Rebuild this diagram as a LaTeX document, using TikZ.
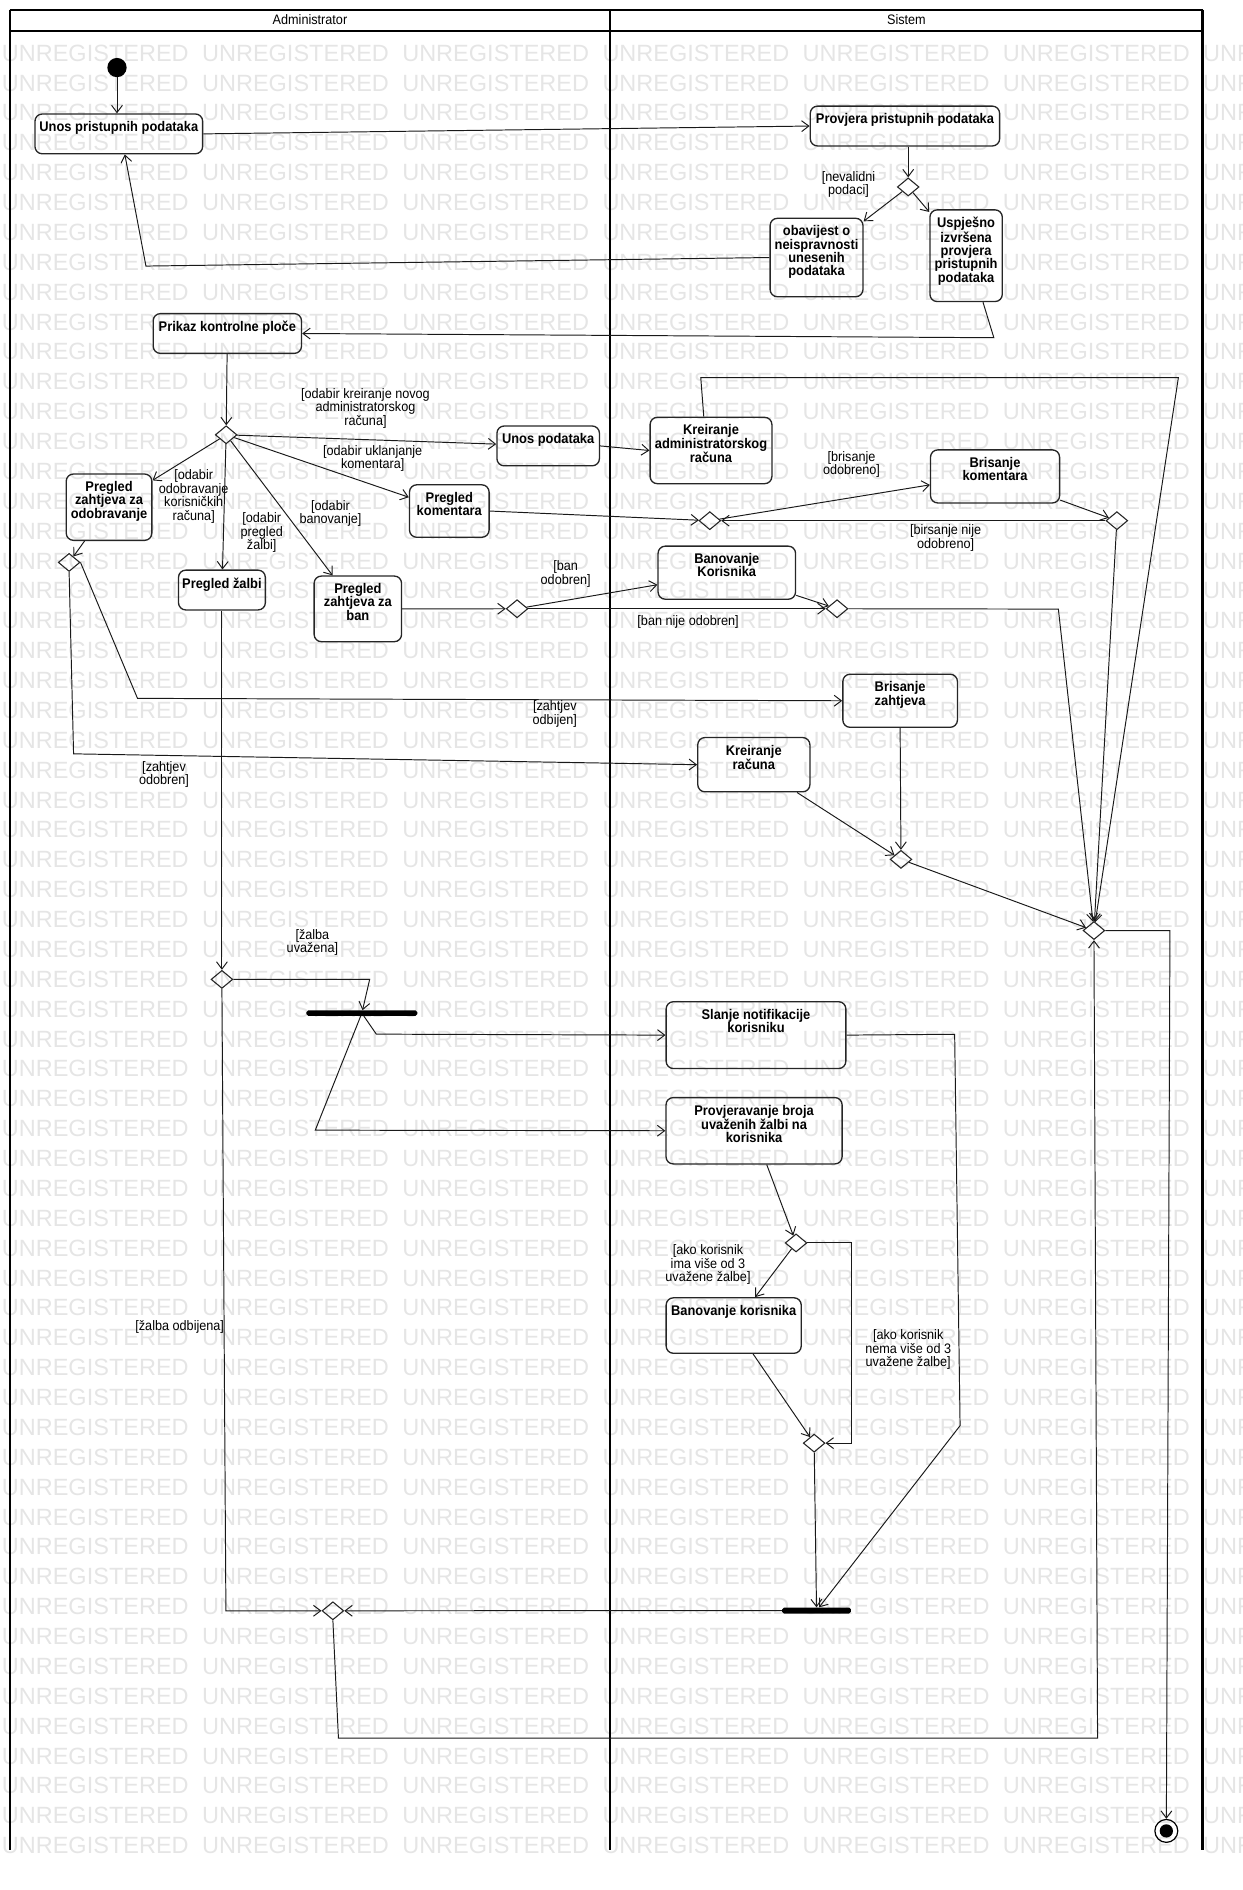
\documentclass[tikz,border=0pt]{standalone}
\usepackage{fontspec}
\setmainfont{Liberation Sans}
\newfontfamily\uifont{Liberation Sans}[FakeStretch=0.92]
\usetikzlibrary{shapes.geometric,arrows.meta}

\newcommand\actfont{\uifont\bfseries\fontsize{11.6}{11}\selectfont}
\newcommand\grdfont{\uifont\fontsize{11.4}{11.3}\selectfont}
\newcommand\lanefont{\uifont\fontsize{11.4}{12}\selectfont}
\newcommand\wmfont{\fontsize{19.5}{20}\selectfont}

\tikzset{
    lane/.style={line width=1.8pt},
    act/.style={draw=black!85, line width=1.1pt, rounded corners=6pt, inner sep=0pt},
    acttxt/.style={anchor=north, inner sep=4pt, yshift=-2.5pt, align=center, font=\actfont},
    dec/.style={diamond, draw=black!85, line width=0.9pt, inner sep=0pt, minimum width=18pt, minimum height=15pt},
    bar/.style={fill=black, rounded corners=1.5pt, inner sep=0pt},
    grd/.style={align=center, inner sep=0pt, font=\grdfont},
    arr/.style={draw=black!90, line width=0.8pt, -{Straight Barb[length=6pt,width=9pt]}},
    wm/.style={text=black!10, font=\wmfont, inner sep=0pt},
}

\begin{document}
\begin{tikzpicture}[x=1pt, y=-1pt]
            \useasboundingbox (0,0) rectangle (1030,1567);
            \clip (0,0) rectangle (1030,1567);

            % Watermark rows
            \foreach \r in {0,...,60}{
                \foreach \c in {0,...,6}{
                    \node[wm] (wm\r-\c) at ({79+166*\c},{44+24.77*\r}) {UNREGISTERED};
                }
            }

            % Swimlanes
            \draw[lane] (8,8) -- (997,8);
            \draw[lane] (8,25.5) -- (997,25.5);
            \draw[lane] (8,8) -- (8,1534);
            \draw[lane] (506,8) -- (506,1534);
            \draw[lane] (997,8) -- (997,1534);
            \node[font=\lanefont] (admin) at (257,16.5) {Administrator};
            \node[font=\lanefont] (sistem) at (751.5,16.5) {Sistem};

            % Start and end
            \node[circle, fill=black, minimum size=16pt, inner sep=0pt] (start) at (97,56) {};
            \node[circle, draw=black, line width=1pt, minimum size=19pt, inner sep=0pt] (final) at (967,1518) {};
            \node[circle, fill=black, minimum size=11pt, inner sep=0pt] (finaldot) at (final) {};

            % Activities
            \node[act, minimum width=139pt, minimum height=33pt, label={[acttxt]north:Unos pristupnih podataka}] (unospr) at (98.5,111) {};
            \node[act, minimum width=157pt, minimum height=33pt, label={[acttxt]north:Provjera pristupnih podataka}] (provjera) at (750.3,104.5) {};
            \node[act, minimum width=77pt, minimum height=65pt, label={[acttxt]north:{obavijest o\\neispravnosti\\unesenih\\podataka}}] (obavijest) at (677,213.5) {};
            \node[act, minimum width=60pt, minimum height=76pt, label={[acttxt]north:{Uspješno\\izvršena\\provjera\\pristupnih\\podataka}}] (uspjesno) at (801,212) {};
            \node[act, minimum width=123pt, minimum height=33pt, label={[acttxt]north:Prikaz kontrolne ploče}] (prikaz) at (188.5,276.5) {};
            \node[act, minimum width=85pt, minimum height=33pt, label={[acttxt]north:Unos podataka}] (unospod) at (454.5,369.7) {};
            \node[act, minimum width=101pt, minimum height=55pt, label={[acttxt]north:{Kreiranje\\administratorskog\\računa}}] (kradmin) at (589.5,373.5) {};
            \node[act, minimum width=71pt, minimum height=55pt, label={[acttxt]north:{Pregled\\zahtjeva za\\odobravanje}}] (pregodo) at (90.4,420.5) {};
            \node[act, minimum width=66pt, minimum height=43.5pt, label={[acttxt]north:{Pregled\\komentara}}] (pregkom) at (372.5,423.7) {};
            \node[act, minimum width=72pt, minimum height=33pt, label={[acttxt]north:Pregled žalbi}] (pregzal) at (184,489.2) {};
            \node[act, minimum width=72.5pt, minimum height=54.4pt, label={[acttxt]north:{Pregled\\zahtjeva za\\ban}}] (pregban) at (296.7,504.8) {};
            \node[act, minimum width=107pt, minimum height=44pt, label={[acttxt]north:{Brisanje\\komentara}}] (brkom) at (825,395) {};
            \node[act, minimum width=114pt, minimum height=44pt, label={[acttxt]north:{Banovanje\\Korisnika}}] (ban1) at (602.6,474.8) {};
            \node[act, minimum width=95pt, minimum height=44pt, label={[acttxt]north:{Brisanje\\zahtjeva}}] (brzaht) at (746.3,581) {};
            \node[act, minimum width=93pt, minimum height=45pt, label={[acttxt]north:{Kreiranje\\računa}}] (kracun) at (625,634) {};
            \node[act, minimum width=149pt, minimum height=55.4pt, label={[acttxt]north:{Slanje notifikacije\\korisniku}}] (slanje) at (626.8,858.2) {};
            \node[act, minimum width=146pt, minimum height=55pt, label={[acttxt]north:{Provjeravanje broja\\uvaženih žalbi na\\korisnika}}] (provj) at (625.2,937.5) {};
            \node[act, minimum width=112pt, minimum height=46pt, label={[acttxt]north:Banovanje korisnika}] (ban2) at (608.3,1099) {};

            % Decisions and merges
            \node[dec] (d1) at (753,155) {};
            \node[dec] (d2) at (187.5,360.5) {};
            \node[dec] (d3) at (57.3,466.3) {};
            \node[dec] (dkom) at (588.5,431.7) {};
            \node[dec] (dkom2) at (926,431.7) {};
            \node[dec] (dban) at (428.7,504.7) {};
            \node[dec] (dban2) at (694,504.7) {};
            \node[dec] (dsmall) at (747,712.5) {};
            \node[dec] (dbig) at (907,771.5) {};
            \node[dec] (dzalba) at (184,812) {};
            \node[dec] (dkor) at (660,1030.5) {};
            \node[dec] (dkor2) at (675,1196.5) {};
            \node[dec] (dlow) at (276,1335.5) {};

            % Fork and join
            \node[bar, minimum width=92pt, minimum height=4.5pt] (fork) at (300,840) {};
            \node[bar, minimum width=57pt, minimum height=5pt] (join) at (677,1335.3) {};

            % Guards
            \node[grd] (g1) at (703.5,153) {[nevalidni\\podaci]};
            \node[grd] (g2) at (303,338.6) {[odabir kreiranje novog\\administratorskog\\računa]};
            \node[grd] (g3) at (309,380) {[odabir uklanjanje\\komentara]};
            \node[grd] (g4) at (274,425.7) {[odabir\\banovanje]};
            \node[grd] (g5) at (217,441.5) {[odabir\\pregled\\žalbi]};
            \node[grd] (g6) at (160.6,411.5) {[odabir\\odobravanje\\korisničkih\\računa]};
            \node[grd] (g7) at (706,385) {[brisanje\\odobreno]};
            \node[grd] (g8) at (784,446) {[birsanje nije\\odobreno]};
            \node[grd] (g9) at (469,476) {[ban\\odobren]};
            \node[grd] (g10) at (570.5,515.5) {[ban nije odobren]};
            \node[grd] (g11) at (460,592) {[zahtjev\\odbijen]};
            \node[grd] (g12) at (136,642) {[zahtjev\\odobren]};
            \node[grd] (g13) at (259,781.5) {[žalba\\uvažena]};
            \node[grd] (g14) at (149,1100) {[žalba odbijena]};
            \node[grd] (g15) at (587,1048.5) {[ako korisnik\\ima više od 3\\uvažene žalbe]};
            \node[grd] (g16) at (753,1119) {[ako korisnik\\nema više od 3\\uvažene žalbe]};

            % Login
            \draw[arr] (start) -- (start |- unospr.north);
            \draw[arr] (unospr.east) -- (provjera.west);
            \draw[arr] (d1 |- provjera.south) -- (d1);
            \draw[arr] (d1) -- (obavijest);
            \draw[arr] (d1) -- (uspjesno);
            \draw[arr] (obavijest.west) -- (121,220.6) -- ([xshift=5pt]unospr.south);
            \draw[arr] ([xshift=14pt]uspjesno.south) -- (824,280) -- (prikaz.east);

            % Dashboard choices
            \draw[arr] (prikaz) -- (d2);
            \draw[arr] (d2) -- (unospod);
            \draw[arr] (d2) -- (pregkom);
            \draw[arr] (d2) -- (pregban);
            \draw[arr] (d2) -- (pregzal);
            \draw[arr] (d2) -- (pregodo);
            \draw[arr] (unospod.east) -- (kradmin.west);
            \draw[arr] ([xshift=-6pt]kradmin.north) -- (581,313) -- (977,313) -- (dbig);

            % Requests
            \draw[arr] (pregodo) -- (d3);
            \draw[arr] (d3.south) -- (61,625) -- (kracun.west);
            \draw[arr] (d3.east) -- (114,579) -- (brzaht.west);
            \draw[arr] (brzaht.south) -- (dsmall);
            \draw[arr] (kracun) -- (dsmall);
            \draw[arr] (dsmall) -- (dbig);

            % Comments
            \draw[arr] (pregkom.east) -- (dkom);
            \draw[arr] (dkom) -- ([yshift=-7pt]brkom.west);
            \draw[arr] (brkom) -- (dkom2);
            \draw[arr] (dkom2) -- (dkom);
            \draw[arr] (dkom2) -- (dbig);

            % Bans
            \draw[arr] (pregban.east) -- (dban);
            \draw[arr] (dban) -- ([yshift=-10pt]ban1.west);
            \draw[arr] (dban) -- (dban2);
            \draw[arr] (ban1) -- (dban2);
            \draw[arr] (dban2.east) -- (877.5,505) -- (dbig);

            % Appeals
            \draw[arr] (pregzal) -- (dzalba);
            \draw[arr] (dzalba.east) -- (306.5,812) -- (fork);
            \draw[arr] (dzalba.south) -- (187.3,1335.5) -- (dlow);
            \draw[arr] (fork) -- (312,857.4) -- (slanje.west);
            \draw[arr] (fork) -- (261.4,937) -- (provj.west);
            \draw[arr] (slanje.east) -- (791.5,857.5) -- (796,1182) -- (join);
            \draw[arr] (provj) -- (dkor);
            \draw[arr] (dkor) -- (ban2);
            \draw[arr] (dkor.east) -- (706,1030.5) -- (706,1196.5) -- (dkor2.east);
            \draw[arr] (ban2) -- (dkor2);
            \draw[arr] (dkor2) -- (join);
            \draw[arr] (join) -- (dlow);

            % To the end
            \draw[arr] (dlow.south) -- (280.6,1441) -- (910,1441) -- (dbig.south);
            \draw[arr] (dbig.east) -- (970,771.5) -- (final);
        \end{tikzpicture}
\end{document}
